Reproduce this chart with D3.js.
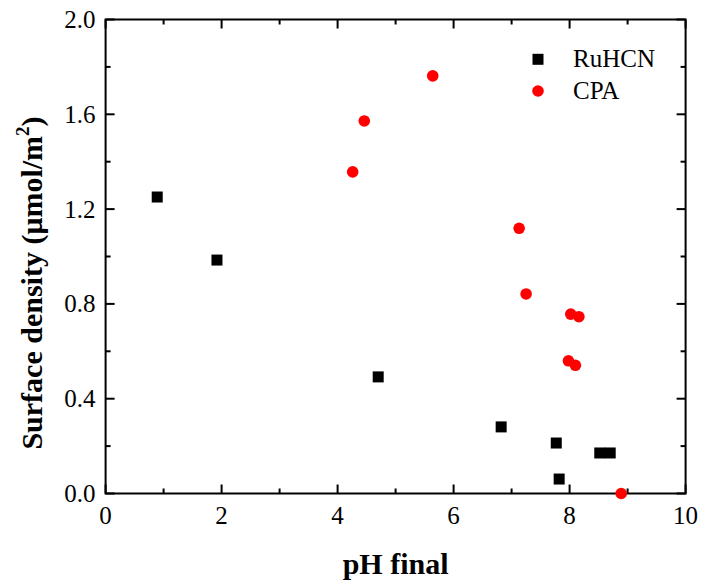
<!DOCTYPE html>
<html>
<head>
<meta charset="UTF-8">
<title>Surface density vs pH</title>
<style>
  body { margin: 0; background: #fff; }
  svg { display: block; font-family: "Liberation Serif", "Times New Roman", serif; }
</style>
</head>
<body>
<svg width="701" height="582"></svg>
<script src="https://d3js.org/d3.v7.min.js"></script>
<script>
// data
const ruhcnPH = [0.89, 1.92, 4.70, 6.82, 7.77, 7.82, 8.52, 8.70];
const ruhcnDensity = [1.251, 0.985, 0.492, 0.281, 0.213, 0.061, 0.171, 0.171];
const cpaPH = [5.64, 4.46, 4.26, 7.13, 7.25, 8.02, 8.16, 7.98, 8.10, 8.89];
const cpaDensity = [1.762, 1.572, 1.357, 1.119, 0.842, 0.757, 0.746, 0.560, 0.541, 0.0];
const xTicks = [0, 2, 4, 6, 8, 10];
const yTicks = [0.0, 0.4, 0.8, 1.2, 1.6, 2.0];

const svg = d3.select("svg");
const mLeft = 105.6, mRight = 685.6, mTop = 19.5, mBottom = 493.5;

const x = d3.scaleLinear().domain([0, 10]).range([mLeft, mRight]);
const y = d3.scaleLinear().domain([0, 2]).range([mBottom, mTop]);

const majorLen = 9, minorLen = 5;
const xMinor = d3.range(1, 10, 2);
const yMinor = d3.range(0.2, 2, 0.4);

// frame
svg.append("rect")
  .attr("x", mLeft).attr("y", mTop)
  .attr("width", mRight - mLeft).attr("height", mBottom - mTop)
  .attr("fill", "none").attr("stroke", "#000").attr("stroke-width", 2);

const ticks = svg.append("g").attr("stroke", "#000").attr("stroke-width", 2);

// x ticks, bottom and top, pointing inward
[[xTicks, majorLen], [xMinor, minorLen]].forEach(([vals, len]) => {
  vals.forEach(v => {
    ticks.append("line").attr("x1", x(v)).attr("x2", x(v)).attr("y1", mBottom).attr("y2", mBottom - len);
    ticks.append("line").attr("x1", x(v)).attr("x2", x(v)).attr("y1", mTop).attr("y2", mTop + len);
  });
});
// y ticks, left and right
[[yTicks, majorLen], [yMinor, minorLen]].forEach(([vals, len]) => {
  vals.forEach(v => {
    ticks.append("line").attr("y1", y(v)).attr("y2", y(v)).attr("x1", mLeft).attr("x2", mLeft + len);
    ticks.append("line").attr("y1", y(v)).attr("y2", y(v)).attr("x1", mRight).attr("x2", mRight - len);
  });
});

// tick labels
svg.append("g").selectAll("text").data(xTicks).join("text")
  .attr("x", d => x(d)).attr("y", mBottom + 30)
  .attr("text-anchor", "middle").attr("font-size", 25)
  .text(d => d);

svg.append("g").selectAll("text").data(yTicks).join("text")
  .attr("x", mLeft - 10).attr("y", d => y(d) + 8.5)
  .attr("text-anchor", "end").attr("font-size", 25)
  .text(d => d3.format(".1f")(d));

// axis titles
svg.append("text")
  .attr("x", (mLeft + mRight) / 2).attr("y", 574)
  .attr("text-anchor", "middle").attr("font-size", 30).attr("font-weight", "bold")
  .text("pH final");

const yTitle = svg.append("text")
  .attr("transform", "translate(42,283) rotate(-90)")
  .attr("text-anchor", "middle").attr("font-size", 30).attr("font-weight", "bold");
yTitle.append("tspan").text("Surface density (\u03bcmol/m");
yTitle.append("tspan").attr("font-size", 19).attr("dy", -13).text("2");
yTitle.append("tspan").attr("dy", 13).text(")");

// points
const sq = 11;
svg.append("g").selectAll("rect")
  .data(ruhcnPH.map((p, i) => [p, ruhcnDensity[i]]))
  .join("rect")
  .attr("x", d => x(d[0]) - sq / 2).attr("y", d => y(d[1]) - sq / 2)
  .attr("width", sq).attr("height", sq).attr("fill", "#000");

svg.append("g").selectAll("circle")
  .data(cpaPH.map((p, i) => [p, cpaDensity[i]]))
  .join("circle")
  .attr("cx", d => x(d[0])).attr("cy", d => y(d[1]))
  .attr("r", 5.8).attr("fill", "#ff0000");

// legend
const lg = svg.append("g");
lg.append("rect").attr("x", 538 - sq / 2).attr("y", 59.3 - sq / 2)
  .attr("width", sq).attr("height", sq).attr("fill", "#000");
lg.append("circle").attr("cx", 538).attr("cy", 91).attr("r", 5.8).attr("fill", "#ff0000");
lg.append("text").attr("x", 573).attr("y", 67).attr("font-size", 25).text("RuHCN");
lg.append("text").attr("x", 573).attr("y", 99).attr("font-size", 25).text("CPA");
</script>
</body>
</html>
